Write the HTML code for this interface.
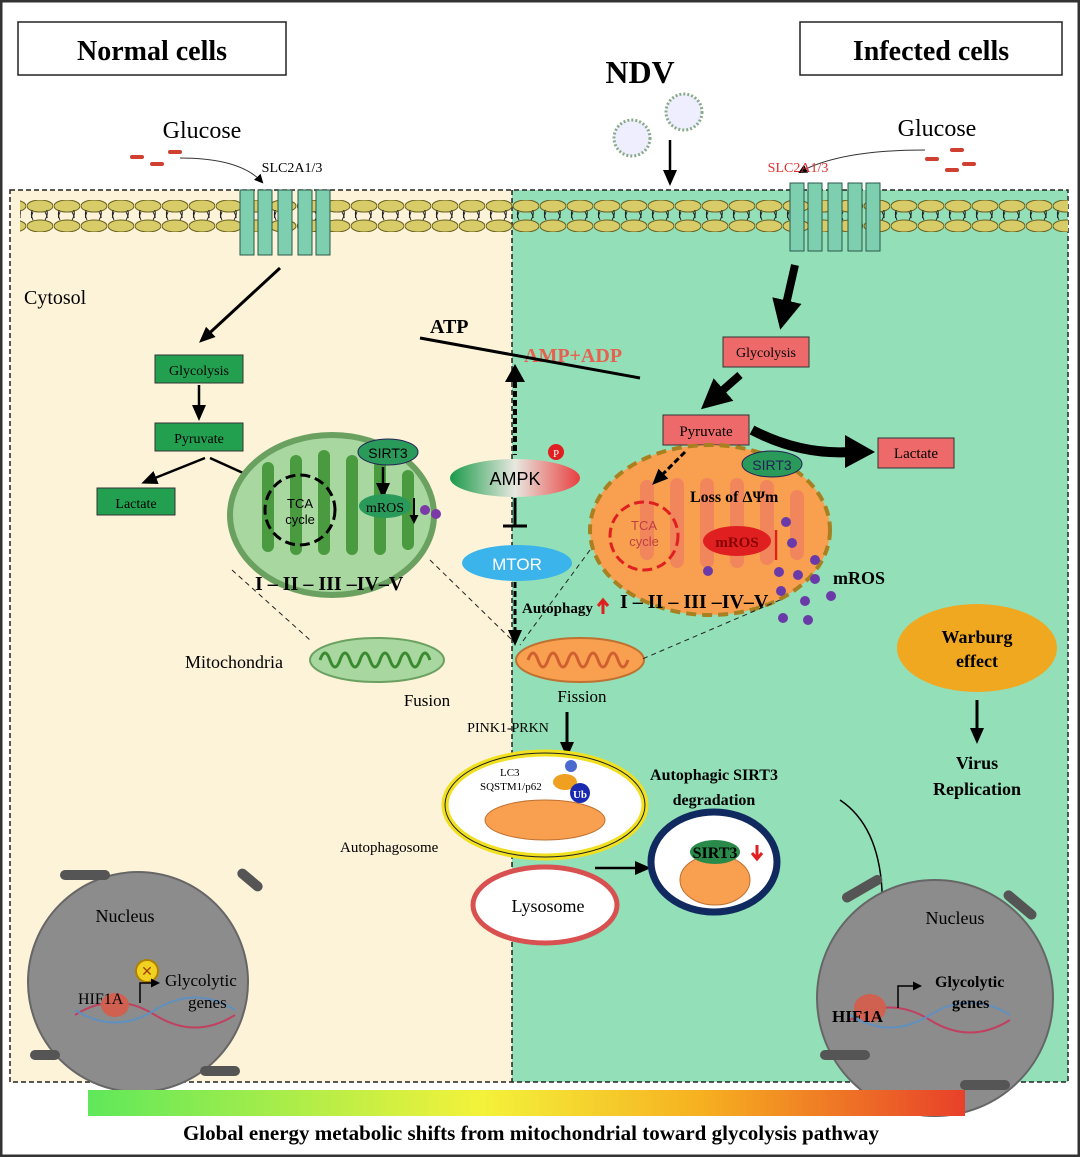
<!DOCTYPE html>
<html><head><style>
html,body{margin:0;padding:0;background:#fff}
svg{display:block}
text{font-family:"Liberation Serif",serif}
.s{font-family:"Liberation Sans",sans-serif}
</style></head><body>
<svg width="1080" height="1157" viewBox="0 0 1080 1157" xmlns="http://www.w3.org/2000/svg">
<defs>
<linearGradient id="bar" x1="0" x2="1"><stop offset="0" stop-color="#5fe85a"/><stop offset="0.45" stop-color="#f4f23a"/><stop offset="0.7" stop-color="#f6b020"/><stop offset="1" stop-color="#e8402a"/></linearGradient>
<linearGradient id="ampk" x1="0" x2="1"><stop offset="0" stop-color="#1a9a4a"/><stop offset="0.5" stop-color="#e8e8e0"/><stop offset="1" stop-color="#e84040"/></linearGradient>
<marker id="ah" markerUnits="userSpaceOnUse" markerWidth="16" markerHeight="16" refX="12" refY="8" orient="auto"><path d="M0,1 L16,8 L0,15 z" fill="#000"/></marker>
<marker id="ahs" markerUnits="userSpaceOnUse" markerWidth="9" markerHeight="9" refX="7" refY="4.5" orient="auto"><path d="M0,0 L9,4.5 L0,9 z" fill="#000"/></marker>
<marker id="ahb" markerUnits="userSpaceOnUse" markerWidth="30" markerHeight="30" refX="22" refY="15" orient="auto"><path d="M0,0 L30,15 L0,30 z" fill="#000"/></marker>
<pattern id="memT" width="27" height="40" patternUnits="userSpaceOnUse"><ellipse cx="13" cy="6" rx="13" ry="6" fill="#d8cc68" stroke="#6a6020" stroke-width="1"/><path d="M6,12 q-4,8 2,14 M18,12 q5,8 -1,14" stroke="#222" fill="none" stroke-width="1"/></pattern>
<pattern id="memB" width="27" height="40" patternUnits="userSpaceOnUse"><ellipse cx="13" cy="34" rx="13" ry="6" fill="#d8cc68" stroke="#6a6020" stroke-width="1"/><path d="M6,28 q-4,-8 2,-14 M18,28 q5,-8 -1,-14" stroke="#222" fill="none" stroke-width="1"/></pattern>
</defs>
<rect x="1" y="1" width="1078" height="1155" fill="#fff" stroke="#333" stroke-width="3"/>
<rect x="10" y="190" width="502" height="892" fill="#fdf3d8"/>
<rect x="512" y="190" width="556" height="892" fill="#92dfb8"/>
<rect x="10" y="190" width="1058" height="892" fill="none" stroke="#222" stroke-dasharray="5,3" stroke-width="1.5"/>
<line x1="512" y1="190" x2="512" y2="1082" stroke="#222" stroke-dasharray="5,3" stroke-width="1.5"/>
<rect x="20" y="198" width="1048" height="20" fill="url(#memT)"/>
<rect x="20" y="218" width="1048" height="32" fill="url(#memB)" transform="translate(0,-8)"/>
<g fill="#7ecfb0" stroke="#2a5a4a" stroke-width="1">
<rect x="240" y="190" width="14" height="65"/><rect x="258" y="190" width="14" height="65"/><rect x="278" y="190" width="14" height="65"/><rect x="298" y="190" width="14" height="65"/><rect x="316" y="190" width="14" height="65"/>
<rect x="790" y="183" width="14" height="68"/><rect x="808" y="183" width="14" height="68"/><rect x="828" y="183" width="14" height="68"/><rect x="848" y="183" width="14" height="68"/><rect x="866" y="183" width="14" height="68"/>
</g>
<rect x="18" y="22" width="268" height="53" fill="#fff" stroke="#222" stroke-width="1.5"/>
<text x="152" y="60" font-size="28" font-weight="bold" text-anchor="middle">Normal cells</text>
<rect x="800" y="22" width="262" height="53" fill="#fff" stroke="#222" stroke-width="1.5"/>
<text x="931" y="60" font-size="28" font-weight="bold" text-anchor="middle">Infected cells</text>
<text x="640" y="83" font-size="32" font-weight="bold" text-anchor="middle">NDV</text>
<circle cx="632" cy="138" r="18" fill="#eef" stroke="#8a8" stroke-width="3" stroke-dasharray="2,2"/>
<circle cx="684" cy="112" r="18" fill="#eef" stroke="#8a8" stroke-width="3" stroke-dasharray="2,2"/>
<line x1="670" y1="140" x2="670" y2="182" stroke="#000" stroke-width="2.5" marker-end="url(#ah)"/>
<text x="202" y="138" font-size="24" text-anchor="middle">Glucose</text>
<text x="937" y="136" font-size="24" text-anchor="middle">Glucose</text>
<g fill="#d04030"><rect x="130" y="155" width="14" height="4" rx="2"/><rect x="168" y="150" width="14" height="4" rx="2"/><rect x="150" y="162" width="14" height="4" rx="2"/>
<rect x="925" y="157" width="14" height="4" rx="2"/><rect x="950" y="148" width="14" height="4" rx="2"/><rect x="962" y="162" width="14" height="4" rx="2"/><rect x="945" y="168" width="14" height="4" rx="2"/></g>
<path d="M180,158 Q240,158 262,182" stroke="#333" fill="none" marker-end="url(#ahs)"/>
<path d="M925,150 Q840,150 800,172" stroke="#333" fill="none" marker-end="url(#ahs)"/>
<text x="292" y="172" font-size="14" text-anchor="middle">SLC2A1/3</text>
<text x="798" y="172" font-size="14" fill="#e03030" text-anchor="middle">SLC2A1/3</text>
<text x="24" y="304" font-size="20">Cytosol</text>
<line x1="280" y1="268" x2="202" y2="340" stroke="#000" stroke-width="3" marker-end="url(#ah)"/>
<rect x="155" y="355" width="88" height="28" fill="#22a050" stroke="#333"/><text x="199" y="375" font-size="14" text-anchor="middle">Glycolysis</text>
<line x1="199" y1="385" x2="199" y2="417" stroke="#000" stroke-width="2.5" marker-end="url(#ah)"/>
<rect x="155" y="423" width="88" height="28" fill="#22a050" stroke="#333"/><text x="199" y="443" font-size="14" text-anchor="middle">Pyruvate</text>
<line x1="205" y1="458" x2="145" y2="482" stroke="#000" stroke-width="2.5" marker-end="url(#ah)"/>
<line x1="210" y1="458" x2="272" y2="486" stroke="#000" stroke-width="2.5" marker-end="url(#ah)"/>
<rect x="97" y="488" width="78" height="27" fill="#22a050" stroke="#333"/><text x="136" y="508" font-size="14" text-anchor="middle">Lactate</text>
<ellipse cx="332" cy="515" rx="102" ry="80" fill="#a8d8a0" stroke="#6aa060" stroke-width="6"/>
<g fill="#4a9a40"><rect x="262" y="462" width="12" height="90" rx="6"/><rect x="290" y="455" width="12" height="100" rx="6"/><rect x="318" y="450" width="12" height="105" rx="6"/><rect x="346" y="455" width="12" height="100" rx="6"/><rect x="374" y="460" width="12" height="95" rx="6"/><rect x="402" y="470" width="12" height="80" rx="6"/></g>
<circle cx="300" cy="510" r="35" fill="none" stroke="#000" stroke-width="3" stroke-dasharray="10,5"/>
<text x="300" y="508" class="s" font-size="13" text-anchor="middle">TCA</text><text x="300" y="524" class="s" font-size="13" text-anchor="middle">cycle</text>
<ellipse cx="388" cy="452" rx="30" ry="13" fill="#2a9a5a" stroke="#225"/><text x="388" y="458" class="s" font-size="14" text-anchor="middle">SIRT3</text>
<line x1="383" y1="467" x2="383" y2="495" stroke="#000" stroke-width="2.5" marker-end="url(#ah)"/>
<ellipse cx="385" cy="506" rx="26" ry="12" fill="#2a9a5a"/><text x="385" y="512" font-size="14" text-anchor="middle">mROS</text>
<line x1="414" y1="498" x2="414" y2="522" stroke="#000" stroke-width="2" marker-end="url(#ahs)"/>
<circle cx="425" cy="510" r="5" fill="#7a3aa8"/><circle cx="436" cy="514" r="5" fill="#7a3aa8"/>
<text x="255" y="590" font-size="20" font-weight="bold">I ‒ II ‒ III ‒IV‒V</text>
<line x1="232" y1="570" x2="310" y2="640" stroke="#222" stroke-dasharray="5,4"/>
<line x1="430" y1="560" x2="512" y2="640" stroke="#222" stroke-dasharray="5,4"/>
<ellipse cx="377" cy="660" rx="67" ry="22" fill="#a8d8a0" stroke="#6aa060" stroke-width="2"/>
<path d="M320,660 q5,-14 10,0 q5,14 10,0 q5,-14 10,0 q5,14 10,0 q5,-14 10,0 q5,14 10,0 q5,-14 10,0 q5,14 10,0 q5,-14 10,0 q5,14 10,0 q5,-14 10,0" stroke="#3a8a30" stroke-width="3" fill="none"/>
<text x="185" y="668" font-size="18">Mitochondria</text>
<text x="427" y="706" font-size="17" text-anchor="middle">Fusion</text>
<ellipse cx="580" cy="660" rx="64" ry="22" fill="#f8a050" stroke="#c07030" stroke-width="2"/>
<path d="M528,660 q5,-14 10,0 q5,14 10,0 q5,-14 10,0 q5,14 10,0 q5,-14 10,0 q5,14 10,0 q5,-14 10,0 q5,14 10,0 q5,-14 10,0 q5,14 10,0" stroke="#d06030" stroke-width="3" fill="none"/>
<text x="582" y="702" font-size="17" text-anchor="middle">Fission</text>
<text x="430" y="333" font-size="20" font-weight="bold">ATP</text>
<text x="524" y="362" font-size="20" font-weight="bold" fill="#e86050">AMP+ADP</text>
<line x1="420" y1="338" x2="640" y2="378" stroke="#000" stroke-width="3"/>
<path d="M505,382 L515,364 L525,382 z" fill="#000"/>
<line x1="515" y1="382" x2="515" y2="455" stroke="#000" stroke-width="4" stroke-dasharray="6,3"/>
<ellipse cx="515" cy="478" rx="65" ry="19" fill="url(#ampk)"/>
<text x="515" y="485" class="s" font-size="18" text-anchor="middle">AMPK</text>
<circle cx="556" cy="452" r="8" fill="#e02020"/><text x="556" y="457" font-size="11" fill="#fff" text-anchor="middle">P</text>
<line x1="515" y1="498" x2="515" y2="525" stroke="#000" stroke-width="3"/><line x1="503" y1="526" x2="527" y2="526" stroke="#000" stroke-width="3"/>
<ellipse cx="517" cy="563" rx="55" ry="18" fill="#3ab4ea"/><text x="517" y="570" class="s" font-size="17" fill="#fff" text-anchor="middle">MTOR</text>
<line x1="515" y1="582" x2="515" y2="642" stroke="#000" stroke-width="3" stroke-dasharray="6,3" marker-end="url(#ah)"/>
<text x="522" y="613" font-size="15" font-weight="bold">Autophagy</text>
<path d="M603,614 v-12 M598,606 l5,-6 l5,6" stroke="#e02020" stroke-width="3" fill="none"/>
<line x1="795" y1="265" x2="782" y2="322" stroke="#000" stroke-width="8" marker-end="url(#ahb)"/>
<rect x="723" y="337" width="86" height="30" fill="#ee6a6a" stroke="#333"/><text x="766" y="357" font-size="14" text-anchor="middle">Glycolysis</text>
<line x1="740" y1="375" x2="707" y2="404" stroke="#000" stroke-width="8" marker-end="url(#ahb)"/>
<rect x="663" y="415" width="86" height="30" fill="#ee6a6a" stroke="#333"/><text x="706" y="436" font-size="15" text-anchor="middle">Pyruvate</text>
<path d="M752,430 Q800,455 850,452" stroke="#000" stroke-width="10" fill="none"/>
<path d="M845,435 L875,452 L845,468 z" fill="#000"/>
<rect x="878" y="438" width="76" height="30" fill="#ee6a6a" stroke="#333"/><text x="916" y="458" font-size="15" text-anchor="middle">Lactate</text>
<ellipse cx="710" cy="530" rx="120" ry="85" fill="#f8a050" stroke="#a88020" stroke-width="4" stroke-dasharray="10,6"/>
<g fill="#f08060" opacity="0.8"><rect x="640" y="480" width="14" height="80" rx="7"/><rect x="670" y="478" width="14" height="90" rx="7"/><rect x="700" y="478" width="14" height="90" rx="7"/><rect x="730" y="478" width="14" height="90" rx="7"/><rect x="760" y="480" width="14" height="85" rx="7"/><rect x="790" y="490" width="14" height="70" rx="7"/></g>
<circle cx="644" cy="536" r="34" fill="none" stroke="#e02020" stroke-width="3" stroke-dasharray="10,5"/>
<text x="644" y="530" class="s" font-size="13" fill="#c04040" text-anchor="middle">TCA</text><text x="644" y="546" class="s" font-size="13" fill="#c04040" text-anchor="middle">cycle</text>
<line x1="685" y1="452" x2="655" y2="482" stroke="#000" stroke-width="3" stroke-dasharray="6,3" marker-end="url(#ah)"/>
<ellipse cx="772" cy="464" rx="30" ry="13" fill="#2a9a5a" stroke="#225"/><text x="772" y="470" class="s" font-size="14" fill="#225" text-anchor="middle">SIRT3</text>
<text x="690" y="502" font-size="16" font-weight="bold">Loss of ΔΨm</text>
<ellipse cx="737" cy="541" rx="34" ry="15" fill="#e02020"/><text x="737" y="547" font-size="15" font-weight="bold" fill="#800" text-anchor="middle">mROS</text>
<line x1="776" y1="560" x2="776" y2="530" stroke="#e02020" stroke-width="2.5"/>
<text x="620" y="608" font-size="20" font-weight="bold">I ‒ II ‒ III ‒IV‒V</text>
<g fill="#6a3aa8"><circle cx="786" cy="522" r="5"/><circle cx="792" cy="543" r="5"/><circle cx="708" cy="571" r="5"/><circle cx="779" cy="572" r="5"/><circle cx="798" cy="575" r="5"/><circle cx="815" cy="560" r="5"/><circle cx="815" cy="579" r="5"/><circle cx="781" cy="591" r="5"/><circle cx="805" cy="601" r="5"/><circle cx="831" cy="596" r="5"/><circle cx="783" cy="618" r="5"/><circle cx="808" cy="620" r="5"/></g>
<text x="833" y="584" font-size="18" font-weight="bold">mROS</text>
<line x1="590" y1="550" x2="520" y2="645" stroke="#222" stroke-dasharray="5,4"/>
<line x1="780" y1="600" x2="640" y2="660" stroke="#222" stroke-dasharray="5,4"/>
<ellipse cx="977" cy="648" rx="80" ry="44" fill="#f0a820"/>
<text x="977" y="643" font-size="18" font-weight="bold" text-anchor="middle">Warburg</text>
<text x="977" y="667" font-size="18" font-weight="bold" text-anchor="middle">effect</text>
<line x1="977" y1="700" x2="977" y2="740" stroke="#000" stroke-width="3" marker-end="url(#ah)"/>
<text x="977" y="769" font-size="18" font-weight="bold" text-anchor="middle">Virus</text>
<text x="977" y="795" font-size="18" font-weight="bold" text-anchor="middle">Replication</text>
<text x="508" y="732" font-size="14" text-anchor="middle">PINK1-PRKN</text>
<line x1="567" y1="712" x2="567" y2="754" stroke="#000" stroke-width="3" marker-end="url(#ah)"/>
<ellipse cx="545" cy="805" rx="100" ry="52" fill="#fff" stroke="#f0e020" stroke-width="7"/>
<ellipse cx="545" cy="805" rx="100" ry="52" fill="none" stroke="#222" stroke-width="1"/>
<ellipse cx="545" cy="820" rx="60" ry="20" fill="#f8a050" stroke="#c07030"/>
<text x="480" y="790" font-size="11">SQSTM1/p62</text><text x="500" y="776" font-size="11">LC3</text>
<circle cx="571" cy="766" r="6" fill="#4a6ad0"/><ellipse cx="565" cy="782" rx="12" ry="8" fill="#f0a020"/>
<circle cx="580" cy="793" r="10" fill="#1a2ab0"/><text x="580" y="798" font-size="11" fill="#fff" font-weight="bold" text-anchor="middle">Ub</text>
<text x="340" y="852" font-size="15">Autophagosome</text>
<ellipse cx="545" cy="905" rx="72" ry="38" fill="#fff" stroke="#d85050" stroke-width="5"/>
<text x="548" y="912" font-size="18" text-anchor="middle">Lysosome</text>
<line x1="595" y1="868" x2="647" y2="868" stroke="#000" stroke-width="2.5" marker-end="url(#ah)"/>
<text x="714" y="780" font-size="16" font-weight="bold" text-anchor="middle">Autophagic SIRT3</text>
<text x="714" y="805" font-size="16" font-weight="bold" text-anchor="middle">degradation</text>
<ellipse cx="714" cy="862" rx="63" ry="50" fill="#fff" stroke="#102a60" stroke-width="7"/>
<ellipse cx="715" cy="880" rx="35" ry="25" fill="#f8a050" stroke="#c07030"/>
<ellipse cx="715" cy="852" rx="25" ry="12" fill="#2a8a4a"/>
<text x="715" y="858" font-size="16" font-weight="bold" text-anchor="middle">SIRT3</text>
<path d="M757,845 v14 M752,853 l5,6 l5,-6" stroke="#e02020" stroke-width="3" fill="none"/>
<path d="M840,800 Q900,840 875,975" stroke="#000" stroke-width="1.5" fill="none" marker-end="url(#ahs)"/>
<circle cx="138" cy="982" r="110" fill="#8c8c8c" stroke="#666" stroke-width="2"/>
<g fill="#555"><rect x="60" y="870" width="50" height="10" rx="5"/><rect x="235" y="875" width="30" height="10" rx="5" transform="rotate(40 250 880)"/><rect x="30" y="1050" width="30" height="10" rx="5"/><rect x="200" y="1066" width="40" height="10" rx="5"/></g>
<text x="125" y="922" font-size="18" text-anchor="middle">Nucleus</text>
<circle cx="147" cy="971" r="11" fill="#f0d020" stroke="#b08000" stroke-width="2"/><text x="147" y="976" font-size="14" fill="#a04000" text-anchor="middle">✕</text>
<path d="M75,1015 q40,-25 80,0 t80,0" stroke="#c04060" fill="none" stroke-width="2"/><path d="M75,1010 q40,25 80,0 t80,0" stroke="#6090c0" fill="none" stroke-width="2"/>
<ellipse cx="115" cy="1005" rx="14" ry="12" fill="#d06050"/>
<text x="78" y="1004" font-size="16">HIF1A</text>
<path d="M140,1003 v-20 h18" stroke="#000" stroke-width="1.5" fill="none" marker-end="url(#ahs)"/>
<text x="165" y="986" font-size="17">Glycolytic</text><text x="188" y="1008" font-size="17">genes</text>
<circle cx="935" cy="998" r="118" fill="#8c8c8c" stroke="#666" stroke-width="2"/>
<g fill="#555"><rect x="840" y="885" width="45" height="10" rx="5" transform="rotate(-30 860 890)"/><rect x="1000" y="900" width="40" height="10" rx="5" transform="rotate(40 1020 905)"/><rect x="820" y="1050" width="50" height="10" rx="5"/><rect x="960" y="1080" width="50" height="10" rx="5"/></g>
<text x="955" y="924" font-size="18" text-anchor="middle">Nucleus</text>
<path d="M850,1020 q40,-25 80,0 t80,0" stroke="#c04060" fill="none" stroke-width="2"/><path d="M850,1015 q40,25 80,0 t80,0" stroke="#6090c0" fill="none" stroke-width="2"/>
<ellipse cx="870" cy="1008" rx="16" ry="14" fill="#d06050"/>
<text x="832" y="1022" font-size="17" font-weight="bold">HIF1A</text>
<path d="M898,1008 v-22 h22" stroke="#000" stroke-width="1.5" fill="none" marker-end="url(#ahs)"/>
<text x="935" y="987" font-size="16" font-weight="bold">Glycolytic</text><text x="952" y="1008" font-size="16" font-weight="bold">genes</text>
<rect x="88" y="1090" width="877" height="26" fill="url(#bar)"/>
<text x="531" y="1140" font-size="21" font-weight="bold" text-anchor="middle">Global energy metabolic shifts from mitochondrial toward glycolysis pathway</text>
</svg>
</body></html>
